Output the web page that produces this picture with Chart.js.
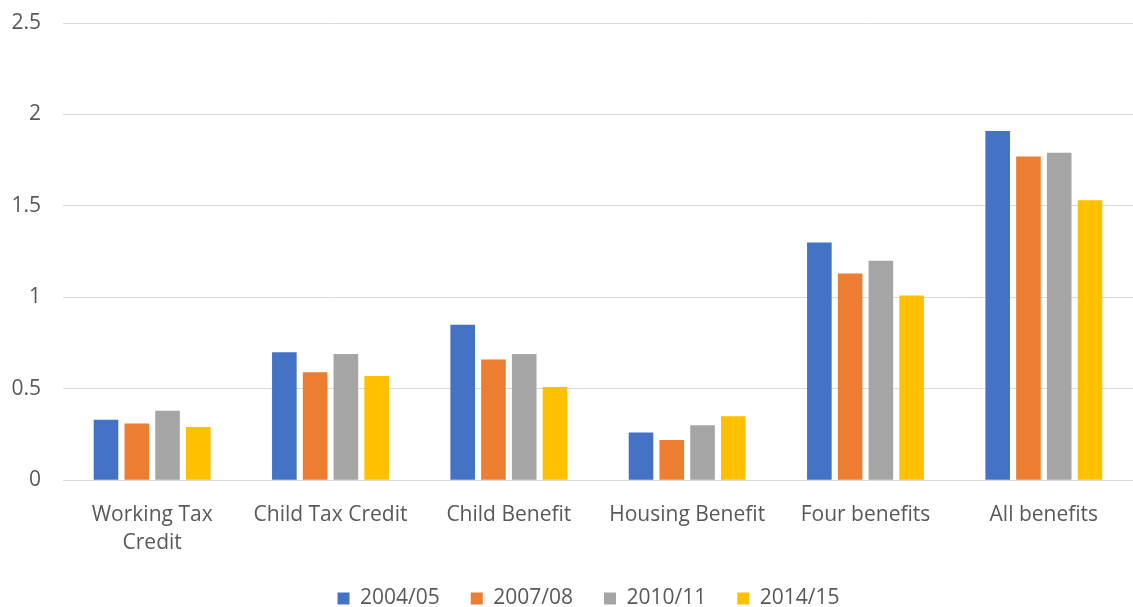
<!DOCTYPE html>
<html>
<head>
<meta charset="utf-8">
<script src="https://cdn.jsdelivr.net/npm/chart.js@4/dist/chart.umd.min.js"></script>
<style>
  html, body { margin: 0; padding: 0; background: #fff; }
  #wrap { width: 1133px; height: 607px; }
</style>
</head>
<body>
<div id="wrap"><canvas id="benefitsChart"></canvas></div>
<script>
const categories = [['Working Tax', 'Credit'], 'Child Tax Credit', 'Child Benefit', 'Housing Benefit', 'Four benefits', 'All benefits'];
const years = ['2004/05', '2007/08', '2010/11', '2014/15'];
const values0405 = [0.33, 0.70, 0.85, 0.26, 1.30, 1.91];
const values0708 = [0.31, 0.59, 0.66, 0.22, 1.13, 1.77];
const values1011 = [0.38, 0.69, 0.69, 0.30, 1.20, 1.79];
const values1415 = [0.29, 0.57, 0.51, 0.35, 1.01, 1.53];
const yTicks = [0, 0.5, 1, 1.5, 2, 2.5];

const colours = ['#4472C4', '#ED7D31', '#A5A5A5', '#FFC000'];
const seriesValues = [values0405, values0708, values1011, values1415];

Chart.defaults.font.family = '"Open Sans", "Noto Sans", sans-serif';
Chart.defaults.color = '#595959';

// nudge the legend a little right, like the original
const legendShift = {
    id: 'legendShift',
    afterLayout: function(chart) {
        chart.legend.left += 22;
        chart.legend.right += 22;
    }
};

document.addEventListener('DOMContentLoaded', function() {
    const ctx = document.getElementById('benefitsChart').getContext('2d');
    new Chart(ctx, {
        type: 'bar',
        data: {
            labels: categories,
            datasets: years.map(function(year, i) {
                return {
                    label: year,
                    data: seriesValues[i],
                    backgroundColor: colours[i],
                    borderWidth: 0,
                    categoryPercentage: 0.69,
                    barPercentage: 0.8
                };
            })
        },
        options: {
            responsive: true,
            maintainAspectRatio: false,
            animation: false,
            layout: { padding: { left: 0, right: 0, top: 0, bottom: -12 } },
            scales: {
                x: {
                    grid: { display: false, drawTicks: true, tickLength: 21 },
                    border: { display: false },
                    ticks: { font: { size: 21, lineHeight: 1.33 }, padding: 0, maxRotation: 0, autoSkip: false }
                },
                y: {
                    min: 0,
                    max: 2.5,
                    afterBuildTicks: function(axis) {
                        axis.ticks = yTicks.map(function(v) { return { value: v }; });
                    },
                    afterFit: function(axis) {
                        axis.width = 63;
                        axis.paddingTop = 23;
                    },
                    grid: { color: '#d9d9d9', drawTicks: false },
                    border: { display: false },
                    ticks: {
                        font: { size: 21 },
                        padding: 22,
                        callback: function(value) { return String(value); }
                    }
                }
            },
            plugins: {
                legend: {
                    position: 'bottom',
                    labels: {
                        boxWidth: 12,
                        boxHeight: 12,
                        padding: 31,
                        font: { size: 21 }
                    }
                },
                tooltip: { enabled: false }
            }
        },
        plugins: [legendShift]
    });
});
</script>
</body>
</html>
